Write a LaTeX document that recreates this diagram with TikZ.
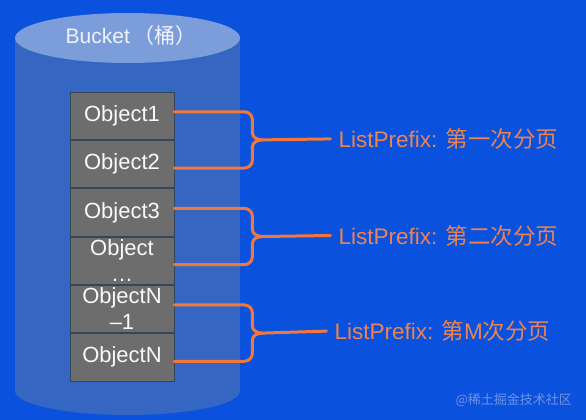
\documentclass[tikz,border=0pt]{standalone}
\usepackage{fontspec}
\setmainfont{Liberation Sans}
\newfontfamily\cjk{Noto Sans CJK SC}
\usetikzlibrary{positioning, calc}
\definecolor{bg-blue}{HTML}{0A52DE}
\definecolor{bucket-blue}{HTML}{3567C2}
\definecolor{lid-blue}{HTML}{7B9EDA}
\definecolor{obj-gray}{HTML}{6D6D6D}
\definecolor{obj-line}{HTML}{34465C}
\definecolor{l-orange}{HTML}{F2773A}
\definecolor{t-orange}{HTML}{EE8350}
\definecolor{mark-blue}{HTML}{6E93E8}
\tikzset{
  objbox/.style={draw=obj-line, line width=0.8pt, fill=obj-gray, text=white!95!gray,
    minimum width=104pt, minimum height=47.5pt, inner sep=0pt, align=center,
    font=\fontsize{22}{26}\selectfont},
  bracket/.style={draw=l-orange, line width=3pt, line cap=round, line join=round},
  pagelabel/.style={text=t-orange, anchor=west, inner sep=0pt,
    font=\fontsize{22.5}{26}\selectfont}
}
\newcommand{\pagebrace}[4]{%  \pagebrace{upper box}{lower box}{tip}{label}
  \draw[bracket] ([yshift=4pt]#1.east) -- ++(70,0) to[out=0,in=90] ++(8,8)
        -- ($(#3)+(0,-7)$) to[out=-90,in=180] ($(#3)+(10,0)$) -- ([xshift=-8pt]#4.west);
  \draw[bracket] ([yshift=-4pt]#2.east) -- ++(70,0) to[out=0,in=-90] ++(8,-8)
        -- ($(#3)+(0,7)$) to[out=90,in=180] ($(#3)+(10,0)$);}

\begin{document}
\begin{tikzpicture}[x=1pt, y=-1pt]
  \useasboundingbox (0,0) rectangle (586,420);
  \fill[bg-blue] (0,0) rectangle (586,420);

  % ── bucket (cylinder) ──
  \fill[bucket-blue] (15,38) rectangle (240,391);
  \fill[bucket-blue] (127.5,391) ellipse [x radius=112.5pt, y radius=24pt];
  \fill[lid-blue] (127.5,38) ellipse [x radius=112.5pt, y radius=25pt];
  \node[text=white!95!blue, font=\fontsize{21}{24}\selectfont] (bucket) at (131,36)
        {Bucket\,{\cjk （桶）}};

  % ── objects, stacked ──
  \node[objbox] (o1) at (122,115.75) {Object1};
  \node[objbox, below=0pt of o1] (o2) {Object2};
  \node[objbox, below=0pt of o2] (o3) {Object3};
  \node[objbox, below=0pt of o3] (o4) {Object\\\ldots};
  \node[objbox, below=0pt of o4] (o5) {ObjectN\\–1};
  \node[objbox, below=0pt of o5] (o6) {ObjectN};

  % ── tips and labels ──
  \coordinate (t1) at ($(o1.south east)+(78,0)$);
  \coordinate (t2) at ($(o3.south east)+(78,0)$);
  \coordinate (t3) at ($(o5.south east)+(78,0)$);
  \node[pagelabel, right=86pt of t1, yshift=1pt] (l1) {ListPrefix: {\cjk 第一次分页}};
  \node[pagelabel, right=86pt of t2, yshift=1pt] (l2) {ListPrefix: {\cjk 第二次分页}};
  \node[pagelabel, right=82pt of t3, yshift=2pt] (l3) {ListPrefix: {\cjk 第}M{\cjk 次分页}};

  \pagebrace{o1}{o2}{t1}{l1}
  \pagebrace{o3}{o4}{t2}{l2}
  \pagebrace{o5}{o6}{t3}{l3}

  % ── watermark ──
  \node[text=mark-blue, anchor=east, inner sep=0pt, font=\cjk\fontsize{13}{15}\selectfont]
        (mark) at (572,400) {@稀土掘金技术社区};
\end{tikzpicture}
\end{document}
